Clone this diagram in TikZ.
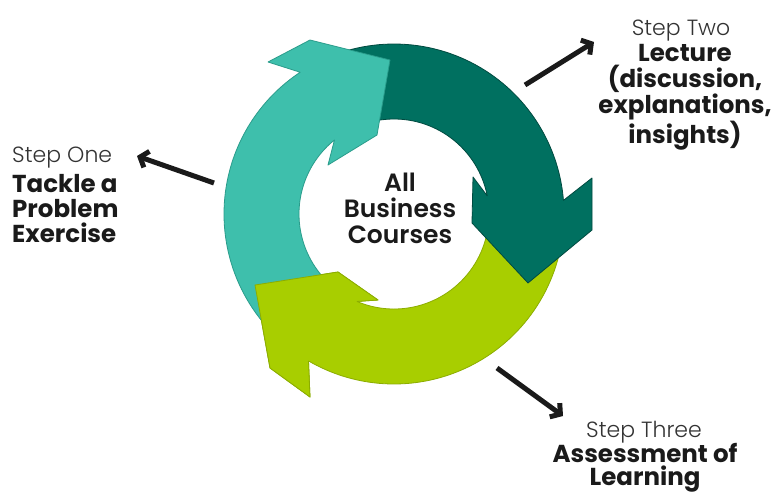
\documentclass[tikz,border=0pt]{standalone}
\usepackage{fontspec}
\setmainfont{Poppins}
\newfontfamily\poplight{Poppins Light}
\newfontfamily\popsemi{Poppins SemiBold}
\usetikzlibrary{calc,arrows.meta}
\definecolor{tealc}{HTML}{3EBFAC}
\definecolor{tealo}{HTML}{2A9C8B}
\definecolor{darkc}{HTML}{007060}
\definecolor{darko}{HTML}{004A40}
\definecolor{limec}{HTML}{A8CE00}
\definecolor{limeo}{HTML}{8CAD00}
\definecolor{ink}{HTML}{1A1A1A}
\definecolor{steplab}{HTML}{333333}
\tikzset{
  ringpart/.style={line width=0.8pt, line join=round},
  pointer/.style={draw=ink, line width=5pt, -{Straight Barb[length=7pt,width=17pt]}},
  steplabel/.style={font=\poplight\fontsize{22}{24}\selectfont, text=steplab, inner sep=0pt},
  stepbody/.style={font=\bfseries\fontsize{24.5}{25}\selectfont, text=ink, inner sep=0pt},
  centertext/.style={font=\popsemi\fontsize{25}{26}\selectfont, text=ink, inner sep=0pt, align=center}
}
\begin{document}
\begin{tikzpicture}[x=1pt,y=-1pt]
\useasboundingbox (0,0) rectangle (773,496);
\fill[white] (0,0) rectangle (773,496);
\coordinate (C) at (394,214);
% lime arrow
\filldraw[ringpart, fill=limec, draw=limeo] ($(C)+(10:170)$) arc[start angle=10,end angle=120.2,radius=170]
  -- (310,397) -- (270,368) -- (255,285) -- (338,272) -- (378,300)
  -- ($(C)+(113:95)$) arc[start angle=113,end angle=10,radius=95] -- cycle;
% dark arrow
\filldraw[ringpart, fill=darkc, draw=darko] ($(C)+(-110:170)$) arc[start angle=-110,end angle=-4.6,radius=170]
  -- (592,178) -- (592,230) -- (528,283) -- (472,223) -- (473,177)
  -- ($(C)+(-11:95)$) arc[start angle=-11,end angle=-110,radius=95] -- cycle;
% teal arrow
\filldraw[ringpart, fill=tealc, draw=tealo] ($(C)+(135:170)$) arc[start angle=135,end angle=236.5,radius=170]
  -- (268,62) -- (310,40) -- (390,60) -- (377,135) -- (328,165)
  -- ($(C)+(231.2:95)$) arc[start angle=231.2,end angle=135,radius=95] -- cycle;
% lime head on top of teal tail
\fill[limec] ($(C)+(120.2:170)$) -- (310,397) -- (270,368) -- (255,285) -- (338,272) -- (378,300) -- ($(C)+(113:95)$) -- cycle;
\draw[ringpart, draw=limeo] ($(C)+(120.2:170)$) -- (310,397) -- (270,368) -- (255,285) -- (338,272) -- (378,300) -- ($(C)+(113:95)$);

% texts (base anchor = baseline of last line)
\node[centertext, anchor=base] (center) at (400,243) {All\\Business\\Courses};

\node[steplabel, anchor=base west] (s1) at (12,162) {Step One};
\node[stepbody, anchor=base west, align=left] (b1) at (12,242) {Tackle a\\Problem\\Exercise};

\node[steplabel, anchor=base] (s2) at (681,35) {Step Two};
\node[stepbody, anchor=base, align=center, font=\bfseries\fontsize{24.5}{26}\selectfont] (b2) at (685,143) {Lecture\\(discussion,\\explanations,\\insights)};

\node[steplabel, anchor=base] (s3) at (644,437) {Step Three};
\node[stepbody, anchor=base, align=center, font=\bfseries\fontsize{24.5}{23}\selectfont] (b3) at (645,485) {Assessment of\\Learning};

% pointers
\coordinate (p1s) at (214,183); \coordinate (p1e) at (137,156);
\coordinate (p2s) at (525,85);  \coordinate (p2e) at (594,42);
\coordinate (p3s) at (497,368); \coordinate (p3e) at (563,416);
\draw[pointer] (p1s) -- (p1e);
\draw[pointer] (p2s) -- (p2e);
\draw[pointer] (p3s) -- (p3e);
\end{tikzpicture}
\end{document}
